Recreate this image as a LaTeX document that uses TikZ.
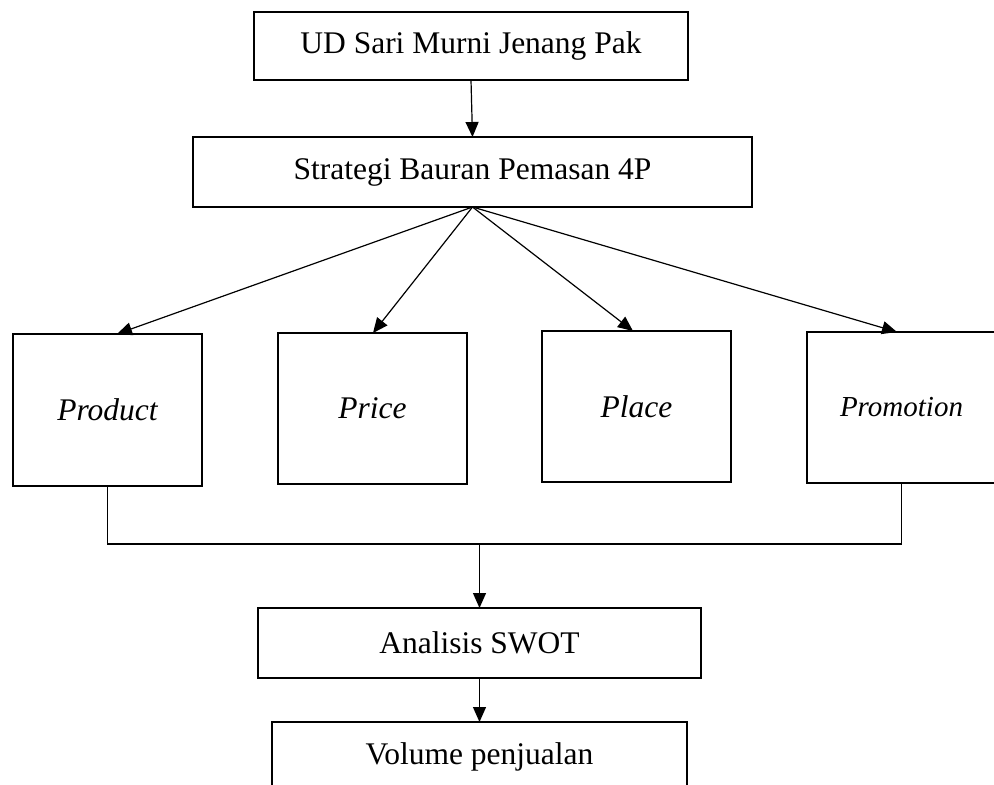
\documentclass[tikz,border=0pt]{standalone}
\usepackage{fontspec}
\setmainfont{Liberation Serif}
\usetikzlibrary{arrows.meta}
\tikzset{
  box/.style={draw=black, line width=2.7pt, fill=white, inner sep=0pt, outer sep=0pt,
    font=\fontsize{31.5}{36}\selectfont},
  pbox/.style={box, minimum width=189pt, font=\fontsize{31.5}{36}\selectfont\itshape},
  conn/.style={draw=black, line width=1.2pt},
  arr/.style={conn, -{Triangle[length=15pt,width=13pt]}}
}
\begin{document}
\begin{tikzpicture}[x=1pt,y=-1pt]
\useasboundingbox (0,0) rectangle (994,785);
\clip (0,0) rectangle (994,785);
\node[box, minimum width=434pt, minimum height=68pt] (ud) at (471,46) {UD Sari Murni Jenang Pak};
\node[box, minimum width=559pt, minimum height=70pt] (strat) at (472.5,172) {Strategi Bauran Pemasan 4P};
\node[pbox, minimum height=152pt] (prod) at (107.5,410) {Product};
\node[pbox, minimum height=151pt] (price) at (372.5,408.5) {Price};
\node[pbox, minimum height=151pt] (place) at (636.5,406.5) {Place};
\node[pbox, minimum height=151pt, font=\fontsize{29}{34}\selectfont\itshape] (promo) at (901.5,407.5) {Promotion};
\node[box, minimum width=443pt, minimum height=70pt] (swot) at (479.5,643) {Analisis SWOT};
\node[box, minimum width=415pt, minimum height=70pt] (vol) at (479.5,757) {Volume penjualan};
\coordinate (j) at (479.5,544);
\draw[arr] (ud.south) -- (strat.north);
\draw[arr] (strat.south) -- ([xshift=9.5pt]prod.north);
\draw[arr] (strat.south) -- ([xshift=0.5pt]price.north);
\draw[arr] (strat.south) -- ([xshift=-3.5pt]place.north);
\draw[arr] (strat.south) -- ([xshift=-4.5pt]promo.north);
\draw[conn] (prod.south) |- (j) -| (promo.south);
\draw[arr] (j) -- (swot.north);
\draw[arr] (swot.south) -- (vol.north);
\end{tikzpicture}
\end{document}
